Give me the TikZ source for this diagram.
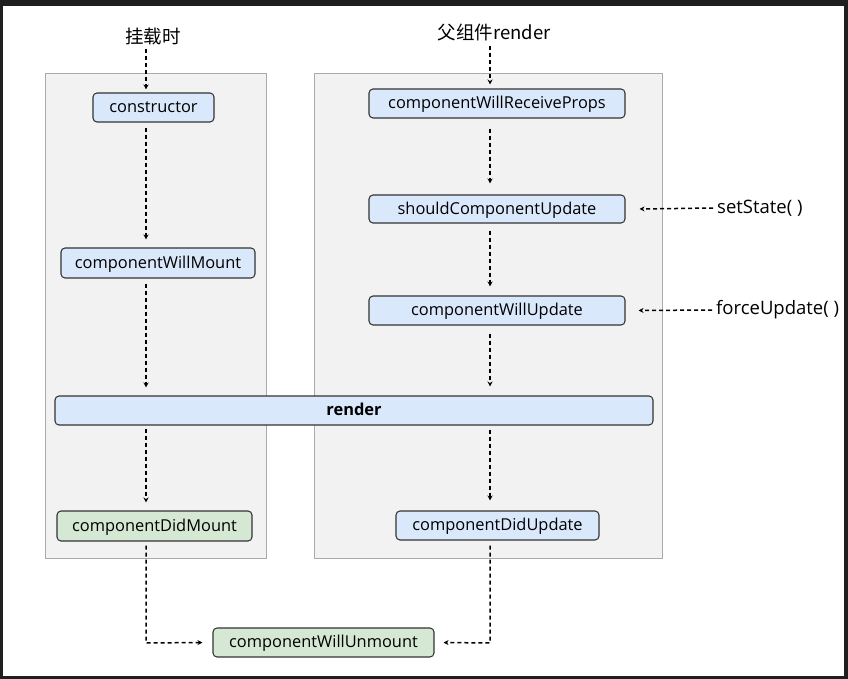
\documentclass[tikz,border=0pt]{standalone}
\usepackage{fontspec}
\setmainfont{Open Sans}
\newfontfamily\cjk{Noto Sans CJK SC}
\usetikzlibrary{arrows.meta}
\definecolor{frame}{HTML}{1F1F1F}
\definecolor{panelfill}{HTML}{F2F2F2}
\definecolor{panelline}{HTML}{ABABAB}
\definecolor{bluefill}{HTML}{DAE8FC}
\definecolor{greenfill}{HTML}{D5E8D4}
\definecolor{boxline}{HTML}{333333}
\tikzset{
  x=1pt, y=-1pt,
  panel/.style={draw=panelline, fill=panelfill, line width=1pt},
  box/.style={draw=boxline, fill=bluefill, rounded corners=4pt, line width=1.05pt, inner sep=0pt, text height=13pt, text depth=2.5pt, font=\fontsize{16.4}{19}\selectfont},
  gbox/.style={box, fill=greenfill},
  lbl/.style={inner sep=0pt, font=\fontsize{18.5}{22}\selectfont},
  flow/.style={draw=black, line width=1.5pt, dash pattern=on 4pt off 3pt, -{Stealth[length=5pt,width=5pt]}},
}
\begin{document}
\begin{tikzpicture}
\fill[frame] (0,0) rectangle (848,679);
\fill[white] (3,6) rectangle (844,676);
\useasboundingbox (0,0) rectangle (848,679);
% panels
\draw[panel] (45,74) rectangle (266,558);
\draw[panel] (314,74) rectangle (662,558);
% nodes
\node[box, minimum width=121pt, minimum height=29pt] (ctor) at (153.5,107.5) {constructor};
\node[box, minimum width=194pt, minimum height=30pt] (cwm) at (158,263) {componentWillMount};
\node[box, minimum width=598pt, minimum height=29pt, font=\fontsize{16.4}{19}\selectfont\bfseries] (render) at (354,410.5) {render};
\node[gbox, minimum width=195pt, minimum height=30pt] (cdm) at (154.5,526) {componentDidMount};
\node[box, minimum width=256pt, minimum height=29pt] (cwrp) at (497,103.5) {componentWillReceiveProps};
\node[box, minimum width=256pt, minimum height=28pt] (scu) at (497,209) {shouldComponentUpdate};
\node[box, minimum width=256pt, minimum height=29pt] (cwu) at (497,310.5) {componentWillUpdate};
\node[box, minimum width=203pt, minimum height=29pt] (cdu) at (497.5,525.5) {componentDidUpdate};
\node[gbox, minimum width=221pt, minimum height=29pt] (cwun) at (323.5,642.5) {componentWillUnmount};
% labels
\node[lbl] (mount) at (153,36) {\cjk 挂载时};
\node[lbl] (parent) at (494,33) {\cjk 父组件render};
\node[lbl, anchor=west] (setst) at (717,208) {setState( )};
\node[lbl, anchor=west] (force) at (716,310) {forceUpdate( )};
% axis coordinates
\coordinate (lx) at (146,0);
\coordinate (rx) at (490,0);
\coordinate (lcorner) at (146,643);
\coordinate (rcorner) at (490,643);
% left flow
\draw[flow] ([yshift=-4pt]mount.south -| lx) -- ([yshift=3pt]ctor.north -| lx);
\draw[flow] ([yshift=-5pt]ctor.south -| lx) -- ([yshift=8pt]cwm.north -| lx);
\draw[flow] ([yshift=-5pt]cwm.south -| lx) -- ([yshift=8pt]render.north -| lx);
\draw[flow] ([yshift=-3pt]render.south -| lx) -- ([yshift=8pt]cdm.north -| lx);
\draw[flow] ([yshift=-4pt]cdm.south -| lx) -- (lcorner) -- ([xshift=-10pt]cwun.west);
% right flow
\draw[flow] ([yshift=-4pt]parent.south -| rx) -- ([yshift=4pt]cwrp.north -| rx);
\draw[flow] ([yshift=-10pt]cwrp.south -| rx) -- ([yshift=11pt]scu.north -| rx);
\draw[flow] ([yshift=-7pt]scu.south -| rx) -- ([yshift=9pt]cwu.north -| rx);
\draw[flow] ([yshift=-8pt]cwu.south -| rx) -- ([yshift=9pt]render.north -| rx);
\draw[flow] ([yshift=-4pt]render.south -| rx) -- ([yshift=10pt]cdu.north -| rx);
\draw[flow] ([yshift=-5pt]cdu.south -| rx) -- (rcorner) -- ([xshift=9pt]cwun.east);
% side inputs
\draw[flow] ([xshift=-4pt]setst.west) -- ([xshift=14pt]scu.east);
\draw[flow] ([xshift=-4pt]force.west) -- ([xshift=13pt]cwu.east);
\end{tikzpicture}
\end{document}
